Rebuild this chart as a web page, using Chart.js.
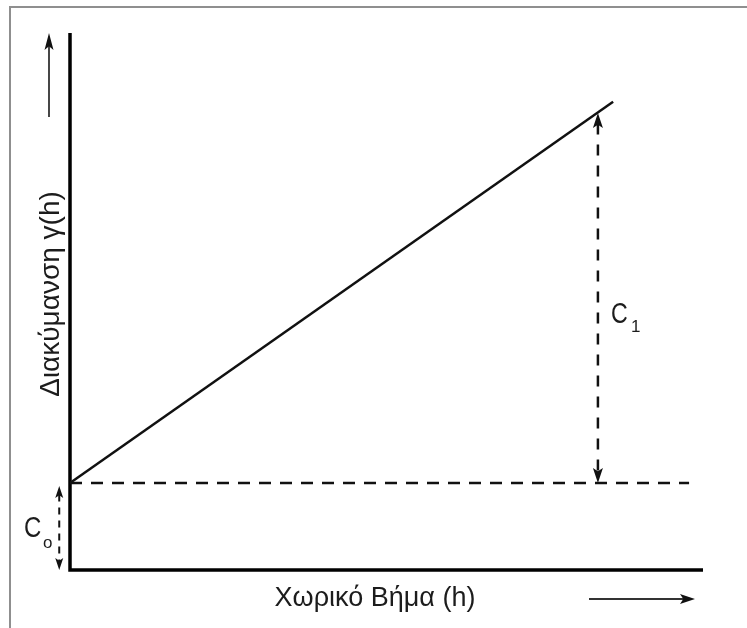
<!DOCTYPE html>
<html>
<head>
<meta charset="utf-8">
<title>Βαριόγραμμα</title>
<script src="https://cdn.jsdelivr.net/npm/chart.js@4/dist/chart.umd.min.js"></script>
<style>
  html, body { margin: 0; padding: 0; background: #fff; overflow: hidden; }
  #wrap { position: relative; width: 747px; height: 628px; }
  #frame {
    position: absolute; left: 9px; top: 6px; right: 0; bottom: 0;
    border-left: 2px solid #8f8f8f; border-top: 2px solid #8f8f8f;
    pointer-events: none;
  }
  canvas { position: absolute; left: 0; top: 0; }
</style>
</head>
<body>
<div id="wrap">
  <canvas id="variogram" width="747" height="628"></canvas>
  <div id="frame"></div>
</div>
<script>
'use strict';

// ─── Data (lag h on x, semivariance γ(h) on y) ───────────────
const AXIS_MAX_H = 10;
const AXIS_MAX_GAMMA = 10;

const lagValues = [0, 8.58];          // linear model end points
const gammaValues = [1.62, 8.72];

const nuggetC0 = 1.62;                // C0 level
const nuggetLineEnd = 9.78;           // end of the dashed C0 line
const c0ArrowLag = -0.17;             // C0 arrow sits just left of the axis

const c1Lag = 8.34;                   // C1 span, from C0 up to the line
const c1Top = 8.51;

const AXIS_TITLE_X = 'Χωρικό Βήμα (h)';
const AXIS_TITLE_Y = 'Διακύμανση γ(h)';
const FONT = '"Liberation Sans", Arial, Helvetica, sans-serif';
const INK = '#111';

// filled arrow head with its tip at (x, y), pointing along (dx, dy)
function arrowHead(ctx, x, y, dx, dy, len, half) {
    const n = Math.hypot(dx, dy);
    const ux = dx / n, uy = dy / n;
    const bx = x - ux * len, by = y - uy * len;
    ctx.beginPath();
    ctx.moveTo(x, y);
    ctx.lineTo(bx - uy * half, by + ux * half);
    ctx.lineTo(x - ux * len * 0.78, y - uy * len * 0.78);
    ctx.lineTo(bx + uy * half, by - ux * half);
    ctx.closePath();
    ctx.fill();
}

function dimArrow(ctx, x, y1, y2, dash, len, half, width) {
    ctx.save();
    ctx.lineWidth = width;
    ctx.setLineDash(dash);
    ctx.beginPath();
    ctx.moveTo(x, y1 + len * 0.7);
    ctx.lineTo(x, y2 - len * 0.7);
    ctx.stroke();
    ctx.setLineDash([]);
    arrowHead(ctx, x, y1, 0, -1, len, half);
    arrowHead(ctx, x, y2, 0, 1, len, half);
    ctx.restore();
}

// C with a small subscript, slightly narrowed like the drawing's lettering
function labelC(ctx, x, baseline, sub, size, subSize, subDx, subDy) {
    ctx.save();
    ctx.translate(x, baseline);
    ctx.scale(0.8, 1);
    ctx.font = `${size}px ${FONT}`;
    ctx.textAlign = 'left';
    ctx.textBaseline = 'alphabetic';
    ctx.fillText('C', 0, 0);
    ctx.restore();
    ctx.save();
    ctx.font = `${subSize}px ${FONT}`;
    ctx.textBaseline = 'alphabetic';
    ctx.fillText(sub, x + subDx, baseline + subDy);
    ctx.restore();
}

const sketchPlugin = {
    id: 'variogramSketch',
    beforeDatasetsDraw(chart) {
        const { ctx, scales: { x, y } } = chart;
        const x0 = x.getPixelForValue(0);
        const y0 = y.getPixelForValue(0);
        ctx.save();
        ctx.strokeStyle = '#000';
        ctx.lineWidth = 3.5;
        ctx.lineCap = 'butt';
        ctx.beginPath();
        ctx.moveTo(x0, y.getPixelForValue(AXIS_MAX_GAMMA));
        ctx.lineTo(x0, y0 + 1.75);
        ctx.moveTo(x0 - 1.75, y0);
        ctx.lineTo(x.getPixelForValue(AXIS_MAX_H), y0);
        ctx.stroke();
        ctx.restore();
    },
    afterDatasetsDraw(chart) {
        const { ctx, scales: { x, y } } = chart;
        ctx.save();
        ctx.strokeStyle = INK;
        ctx.fillStyle = INK;

        // C1: from the C0 level up to the line
        const c1x = x.getPixelForValue(c1Lag);
        dimArrow(ctx, c1x, y.getPixelForValue(c1Top), y.getPixelForValue(nuggetC0), [11, 10], 15, 5, 2.5);

        // C0: from the x axis up to the C0 level
        const c0x = x.getPixelForValue(c0ArrowLag);
        dimArrow(ctx, c0x, y.getPixelForValue(nuggetC0) + 3, y.getPixelForValue(0), [7, 6], 12, 4, 2);

        ctx.fillStyle = '#1c1c1c';
        labelC(ctx, 24, 537, 'o', 30, 17, 19, 11);
        labelC(ctx, 611, 323, '1', 29, 17, 20, 9);

        // axis titles with their direction arrows
        ctx.font = `27px ${FONT}`;
        ctx.textAlign = 'center';
        ctx.textBaseline = 'alphabetic';
        ctx.fillText(AXIS_TITLE_X, 375, 606);

        ctx.save();
        ctx.font = `28px ${FONT}`;
        ctx.translate(59, 294);
        ctx.rotate(-Math.PI / 2);
        ctx.fillText(AXIS_TITLE_Y, 0, 0);
        ctx.restore();

        ctx.strokeStyle = '#333';
        ctx.fillStyle = '#111';
        ctx.lineWidth = 1.8;
        ctx.beginPath();
        ctx.moveTo(49, 117);
        ctx.lineTo(49, 42);
        ctx.moveTo(589, 599);
        ctx.lineTo(685, 599);
        ctx.stroke();
        arrowHead(ctx, 49, 33, 0, -1, 17, 4.5);
        arrowHead(ctx, 695, 599, 1, 0, 15, 5);
        ctx.restore();
    }
};

const ctx = document.getElementById('variogram');

new Chart(ctx, {
    type: 'scatter',
    data: {
        datasets: [
            {
                label: 'γ(h)',
                data: lagValues.map((h, i) => ({ x: h, y: gammaValues[i] })),
                showLine: true,
                borderColor: INK,
                borderWidth: 2.5,
                pointRadius: 0,
            },
            {
                label: 'C0',
                data: [{ x: 0, y: nuggetC0 }, { x: nuggetLineEnd, y: nuggetC0 }],
                showLine: true,
                borderColor: INK,
                borderWidth: 2.5,
                borderDash: [12, 9],
                pointRadius: 0,
            }
        ]
    },
    options: {
        responsive: false,
        animation: false,
        devicePixelRatio: 1,
        layout: { padding: { left: 70, top: 33, right: 44, bottom: 58 } },
        plugins: { legend: { display: false }, tooltip: { enabled: false } },
        scales: {
            x: { type: 'linear', min: 0, max: AXIS_MAX_H, display: false },
            y: { type: 'linear', min: 0, max: AXIS_MAX_GAMMA, display: false }
        }
    },
    plugins: [sketchPlugin]
});
</script>
</body>
</html>
